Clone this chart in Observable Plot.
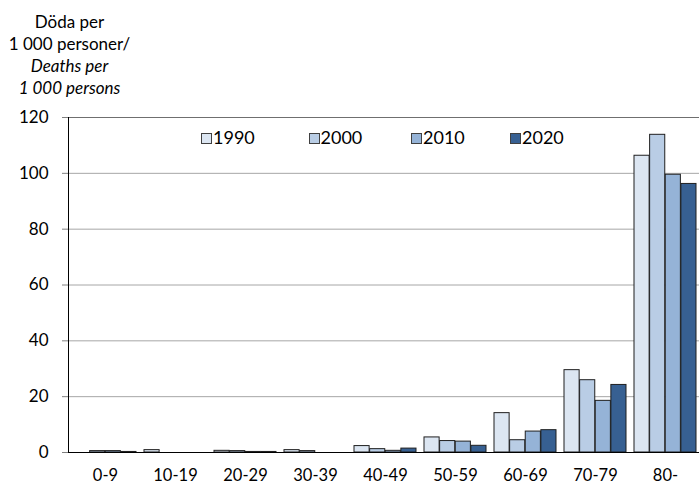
<!DOCTYPE html>
<html><head><meta charset="utf-8">
<script src="https://cdn.jsdelivr.net/npm/d3@7"></script>
<script src="https://cdn.jsdelivr.net/npm/@observablehq/plot@0.6"></script>
<style>
html,body{margin:0;padding:0;background:#fff;overflow:hidden;}
#wrap{position:relative;width:699px;height:486px;overflow:hidden;font-family:Lato,sans-serif;color:#000;}
#title{height:100px;box-sizing:border-box;padding-top:10.6px;width:139px;text-align:center;font-size:17px;line-height:22.3px;}
#title .it{font-style:italic;}
.lg-sq{position:absolute;width:9px;height:9px;border:1px solid #404040;top:133px;}
.lg-tx{position:absolute;font-size:18px;line-height:21.6px;top:127px;}
#chart svg{display:block;}
</style></head><body>
<div id="wrap">
  <div id="title"></div>
  <div id="chart"></div>
</div>
<script>
// ---- data ----
const titleLines = ["Döda per", "1 000 personer/", "Deaths per", "1 000 persons"];
const titleItalic = [false, false, true, true];
const groups = ["0-9","10-19","20-29","30-39","40-49","50-59","60-69","70-79","80-"];
const years = ["1990","2000","2010","2020"];
const v1990 = [0,   0.85, 0.6, 0.85, 2.3, 5.4, 14.1, 29.5, 106.3];
const v2000 = [0.5, 0,    0.5, 0.5,  1.2, 4.1, 4.4,  25.9, 113.8];
const v2010 = [0.5, 0,    0.2, 0,    0.6, 3.9, 7.5,  18.5, 99.5];
const v2020 = [0.2, 0,    0.2, 0,    1.4, 2.4, 8.0,  24.2, 96.2];
const yTicks = [0, 20, 40, 60, 80, 100, 120];
const colors = ["#DCE6F2", "#B9CDE5", "#95B3D7", "#376092"];

// ---- build ----
const series = [v1990, v2000, v2010, v2020];
const data = groups.flatMap((g, i) => years.map((yr, j) => ({group: g, year: yr, value: series[j][i]})));

document.getElementById("title").innerHTML = titleLines
  .map((t, i) => `<div class="${titleItalic[i] ? "it" : ""}">${t}</div>`).join("");

const W = 699, H = 386, mL = 68, mR = -3.5, mT = 17, mB = 34;
const padInner = 0.1135, padOuter = padInner / 2;
const step = (W - mR - mL) / (groups.length - padInner + 2 * padOuter);
const bw = step * (1 - padInner) / years.length;

const leftAxisLine = (index, scales, values, dims) => {
  const x = dims.marginLeft + 0.5;
  return d3.create("svg:line")
    .attr("x1", x).attr("x2", x)
    .attr("y1", scales.y(120)).attr("y2", scales.y(0))
    .attr("stroke", "#000").node();
};

const chart = Plot.plot({
  width: W, height: H,
  marginLeft: mL, marginRight: mR, marginTop: mT, marginBottom: mB,
  style: {fontFamily: "Lato, sans-serif", fontSize: "17px", color: "#000", background: "#fff", overflow: "hidden", maxWidth: "none"},
  x: {domain: groups, paddingInner: padInner, paddingOuter: padOuter, label: null},
  y: {domain: [0, 120], label: null},
  marks: [
    Plot.ruleY(yTicks.filter(v => v > 0 && v < 120), {stroke: "#a6a6a6"}),
    Plot.ruleY([120], {stroke: "#6f6f6f"}),
    ...years.map((yr, j) => Plot.barY(data.filter(d => d.year === yr), {
      x: "group", y: "value", fill: colors[j], stroke: "#1f1f1f", strokeWidth: 1,
      insetLeft: j * bw, insetRight: (years.length - 1 - j) * bw
    })),
    Plot.ruleY([0], {stroke: "#000"}),
    leftAxisLine,
    Plot.axisY({ticks: yTicks, tickSize: 6, tickPadding: 14, stroke: "#808080", fill: "#000", fontSize: 17, label: null}),
    Plot.axisX({tickSize: 0, tickPadding: 17, fontSize: 16.5, fill: "#000", label: null})
  ]
});
document.getElementById("chart").appendChild(chart);

// legend (inside plot area)
const wrap = document.getElementById("wrap");
const legendLeft = [201, 308.5, 411, 510];
years.forEach((yr, j) => {
  const sq = document.createElement("div");
  sq.className = "lg-sq";
  sq.style.left = legendLeft[j] + "px";
  sq.style.background = colors[j];
  wrap.appendChild(sq);
  const tx = document.createElement("div");
  tx.className = "lg-tx";
  tx.style.left = (legendLeft[j] + 12) + "px";
  tx.textContent = yr;
  wrap.appendChild(tx);
});
</script>
</body></html>
